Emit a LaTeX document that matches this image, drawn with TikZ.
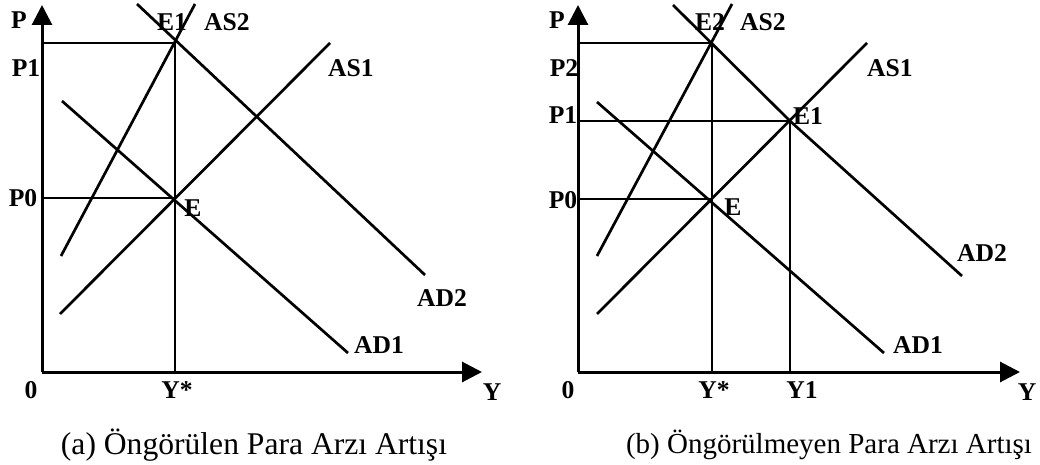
\documentclass[tikz,border=0pt]{standalone}
\usepackage{fontspec}
\setmainfont{Liberation Serif}
\usetikzlibrary{arrows.meta,positioning}

\begin{document}
\begin{tikzpicture}[
  x=0.5pt,
  y=-0.5pt,
  axis/.style={line width=1.5pt,-{Triangle[length=10pt,width=10pt]}},
  curve/.style={line width=1.35pt},
  guide/.style={line width=1.35pt},
  lbl/.style={inner sep=0pt,font=\fontsize{12.8}{14}\selectfont\bfseries},
  caption/.style={inner sep=0pt,font=\fontsize{15}{18}\selectfont}
]
  \useasboundingbox (0,0) rectangle (1040,465);

  % (a) anticipated increase
  \coordinate (aO) at (42,372);
  \coordinate (aTop) at (42,5);
  \coordinate (aEnd) at (482,372);
  \coordinate (aE) at (175,198);
  \coordinate (aEone) at (175,43);
  \coordinate (aYstar) at (175,372);
  \coordinate (aPzero) at (42,198);
  \coordinate (aPone) at (42,43);
  \coordinate (aASoneA) at (60,314);
  \coordinate (aASoneB) at (330,43);
  \coordinate (aAStwoA) at (61,256);
  \coordinate (aAStwoB) at (195,4);
  \coordinate (aADoneA) at (62,101);
  \coordinate (aADoneB) at (348,353);
  \coordinate (aADtwoA) at (137,4);
  \coordinate (aADtwoB) at (425,275);

  \draw[axis] (aO) -- (aTop);
  \draw[axis] (aO) -- (aEnd);
  \draw[guide] (aPone) -- (aEone);
  \draw[guide] (aPzero) -- (aE);
  \draw[guide] (aEone) -- (aYstar);
  \draw[curve] (aASoneA) -- (aASoneB);
  \draw[curve] (aAStwoA) -- (aAStwoB);
  \draw[curve] (aADoneA) -- (aADoneB);
  \draw[curve] (aADtwoA) -- (aADtwoB);

  \node[lbl] (aP) at (19,20) {P};
  \node[lbl] (aEoneLbl) at (172,22) {E1};
  \node[lbl] (aAStwoLbl) at (227,22) {AS2};
  \node[lbl] (aASoneLbl) at (351,68) {AS1};
  \node[lbl] (aPoneLbl) at (26,68) {P1};
  \node[lbl] (aPzeroLbl) at (23,198) {P0};
  \node[lbl] (aELbl) at (193,208) {E};
  \node[lbl] (aADtwoLbl) at (442,298) {AD2};
  \node[lbl] (aADoneLbl) at (379,345) {AD1};
  \node[lbl] (aZero) at (31,390) {0};
  \node[lbl] (aYstarLbl) at (177,390) {Y*};
  \node[lbl] (aY) at (492,392) {Y};
  \node[caption,font=\fontsize{15.8}{18}\selectfont] (aCap) at (254,445) {(a) Öngörülen Para Arzı Artışı};

  % (b) unanticipated increase
  \coordinate (bO) at (578,372);
  \coordinate (bTop) at (578,5);
  \coordinate (bEnd) at (1020,372);
  \coordinate (bE) at (712,199);
  \coordinate (bEone) at (790,121);
  \coordinate (bEtwo) at (712,43);
  \coordinate (bYstar) at (712,372);
  \coordinate (bYone) at (790,372);
  \coordinate (bPzero) at (578,199);
  \coordinate (bPone) at (578,121);
  \coordinate (bPtwo) at (578,43);
  \coordinate (bASoneA) at (597,314);
  \coordinate (bASoneB) at (867,43);
  \coordinate (bAStwoA) at (597,256);
  \coordinate (bAStwoB) at (732,4);
  \coordinate (bADoneA) at (597,102);
  \coordinate (bADoneB) at (884,353);
  \coordinate (bADtwoA) at (673,5);
  \coordinate (bADtwoB) at (962,276);

  \draw[axis] (bO) -- (bTop);
  \draw[axis] (bO) -- (bEnd);
  \draw[guide] (bPtwo) -- (bEtwo);
  \draw[guide] (bPone) -- (bEone);
  \draw[guide] (bPzero) -- (bE);
  \draw[guide] (bEtwo) -- (bYstar);
  \draw[guide] (bEone) -- (bYone);
  \draw[curve] (bASoneA) -- (bASoneB);
  \draw[curve] (bAStwoA) -- (bAStwoB);
  \draw[curve] (bADoneA) -- (bADoneB);
  \draw[curve] (bADtwoA) -- (bEone) -- (bADtwoB);

  \node[lbl] (bP) at (557,20) {P};
  \node[lbl] (bEtwoLbl) at (710,22) {E2};
  \node[lbl] (bAStwoLbl) at (763,22) {AS2};
  \node[lbl] (bASoneLbl) at (890,68) {AS1};
  \node[lbl] (bPtwoLbl) at (564,68) {P2};
  \node[lbl] (bPoneLbl) at (563,115) {P1};
  \node[lbl] (bEoneLbl) at (808,116) {E1};
  \node[lbl] (bPzeroLbl) at (563,200) {P0};
  \node[lbl] (bELbl) at (733,207) {E};
  \node[lbl] (bADtwoLbl) at (982,253) {AD2};
  \node[lbl] (bADoneLbl) at (918,345) {AD1};
  \node[lbl] (bZero) at (568,390) {0};
  \node[lbl] (bYstarLbl) at (714,390) {Y*};
  \node[lbl] (bYoneLbl) at (802,390) {Y1};
  \node[lbl] (bY) at (1027,392) {Y};
  \node[caption,font=\fontsize{14.5}{18}\selectfont] (bCap) at (829,445) {(b) Öngörülmeyen Para Arzı Artışı};
\end{tikzpicture}
\end{document}
